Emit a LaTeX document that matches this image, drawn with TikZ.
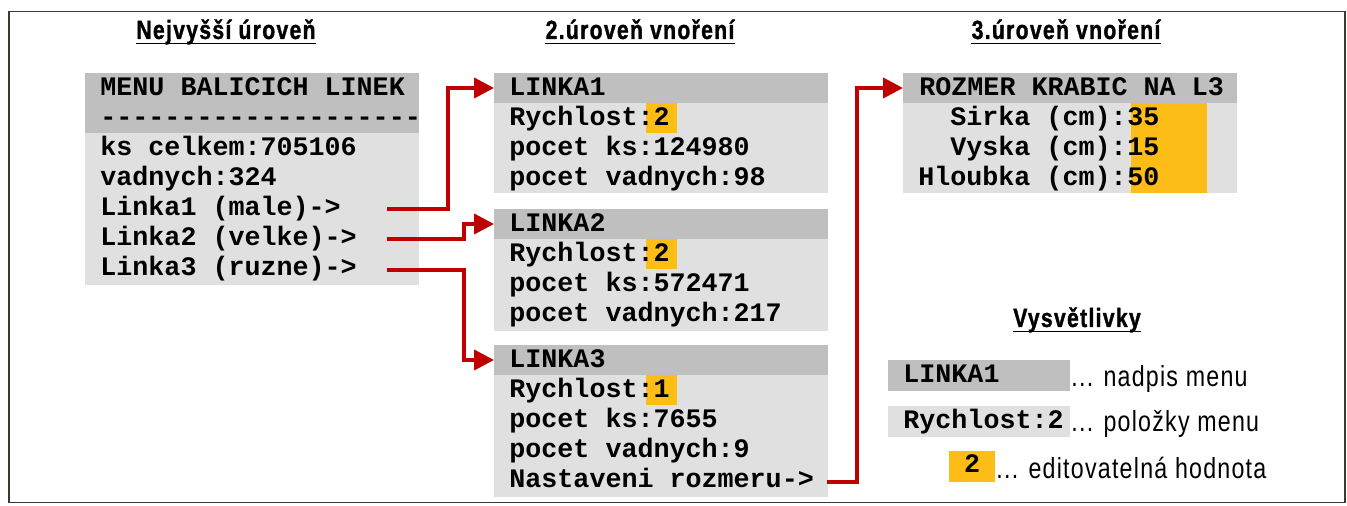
\documentclass[tikz,border=0pt]{standalone}
\usepackage{fontspec}
\setmonofont{Liberation Mono}
\newfontfamily\ttlfont[FakeStretch=0.8,LetterSpace=5,BoldFeatures={FakeBold=1.2}]{Liberation Sans}
\newfontfamily\condfont[FakeStretch=0.8,LetterSpace=4.3]{Liberation Sans}
\usetikzlibrary{arrows.meta}
\definecolor{hdr}{HTML}{BFBFBF}
\definecolor{itm}{HTML}{E0E0E0}
\definecolor{edit}{HTML}{FDBC16}
\definecolor{arr}{HTML}{C00000}
\definecolor{frm}{HTML}{3A3A32}
\begin{document}
\begin{tikzpicture}[x=0.5pt,y=-0.5pt,
  hdrbox/.style={fill=hdr,inner sep=0pt,outer sep=0pt,anchor=north west,minimum width=167pt,minimum height=15pt},
  itmbox/.style={fill=itm,inner sep=0pt,outer sep=0pt,anchor=north west,minimum width=167pt},
  editbox/.style={fill=edit,inner sep=0pt,outer sep=0pt,anchor=north west,minimum width=15.5pt,minimum height=15pt},
  mono/.style={font=\fontsize{13.35}{16}\selectfont\ttfamily\bfseries,anchor=base west,inner sep=0pt},
  ttl/.style={font=\ttlfont\bfseries\fontsize{13.2}{15}\selectfont,anchor=base,inner sep=0pt},
  desc/.style={font=\condfont\fontsize{14.5}{17}\selectfont,anchor=base west,inner sep=0pt},
  conn/.style={draw=arr,line width=2pt,-{Triangle[length=10pt,width=10pt]}},
  uline/.style={line width=0.75pt}]
\useasboundingbox (0,0) rectangle (1347,506);
\node[draw=frm,line width=0.75pt,inner sep=0pt,anchor=north west,minimum width=668pt,minimum height=245.5pt] (frame) at (8,11) {};

% titles
\node[ttl] (t1) at (226,39) {Nejvyšší úroveň};
\node[ttl] (t2) at (640,39) {2.úroveň vnoření};
\node[ttl] (t3) at (1066,39) {3.úroveň vnoření};
\node[ttl] (t4) at (1077,327) {Vysvětlivky};
\foreach \t in {t1,t2,t3,t4}{
  \draw[uline] ([yshift=-2.2pt]\t.base west) -- ([yshift=-2.2pt]\t.base east);
}

% top-level menu
\node[hdrbox,minimum height=30pt] (lh) at (85,73) {};
\node[itmbox,minimum height=76pt] (li) at (85,133) {};
\node[mono] (l1) at (100,96) {MENU BALICICH LINEK};
\node[mono] (l2) at (100,126) {--------------------};
\node[mono] (l3) at (100,156) {ks celkem:705106};
\node[mono] (l4) at (100,186) {vadnych:324};
\node[mono] (l5) at (100,216) {Linka1 (male)->};
\node[mono] (l6) at (100,246) {Linka2 (velke)->};
\node[mono] (l7) at (100,276) {Linka3 (ruzne)->};

% LINKA1
\node[hdrbox] (m1h) at (494,73) {};
\node[itmbox,minimum height=45pt] (m1i) at (494,103) {};
\node[editbox] (e1) at (646,103) {};
\node[mono] (a1) at (509,96) {LINKA1};
\node[mono] (a2) at (509,126) {Rychlost:2};
\node[mono] (a3) at (509,156) {pocet ks:124980};
\node[mono] (a4) at (509,186) {pocet vadnych:98};

% LINKA2
\node[hdrbox] (m2h) at (494,209) {};
\node[itmbox,minimum height=46pt] (m2i) at (494,239) {};
\node[editbox] (e2) at (646,239) {};
\node[mono] (b1) at (509,232) {LINKA2};
\node[mono] (b2) at (509,262) {Rychlost:2};
\node[mono] (b3) at (509,292) {pocet ks:572471};
\node[mono] (b4) at (509,322) {pocet vadnych:217};

% LINKA3
\node[hdrbox] (m3h) at (494,345) {};
\node[itmbox,minimum height=61pt] (m3i) at (494,375) {};
\node[editbox] (e3) at (646,375) {};
\node[mono] (c1) at (509,368) {LINKA3};
\node[mono] (c2) at (509,398) {Rychlost:1};
\node[mono] (c3) at (509,428) {pocet ks:7655};
\node[mono] (c4) at (509,458) {pocet vadnych:9};
\node[mono] (c5) at (509,488) {Nastaveni rozmeru->};

% level 3
\node[hdrbox] (rh) at (903,73) {};
\node[itmbox,minimum height=45pt] (ri) at (903,103) {};
\node[editbox,minimum width=38pt,minimum height=45pt] (re) at (1131,103) {};
\node[mono] (r1) at (919,96) {ROZMER KRABIC NA L3};
\node[mono,anchor=base east] (r2) at (1127,126) {Sirka (cm):};
\node[mono,anchor=base east] (r3) at (1127,156) {Vyska (cm):};
\node[mono,anchor=base east] (r4) at (1127,186) {Hloubka (cm):};
\node[mono] (v2) at (1127,126) {35};
\node[mono] (v3) at (1127,156) {15};
\node[mono] (v4) at (1127,186) {50};

% legend
\node[hdrbox,minimum width=91pt,minimum height=15.5pt] (gh) at (888,360) {};
\node[itmbox,minimum width=91pt,minimum height=15.5pt] (gi) at (888,406) {};
\node[editbox,minimum width=23pt,minimum height=15.5pt] (ge) at (949,451) {};
\node[mono] (g1) at (903,383) {LINKA1};
\node[mono] (g2) at (903,429) {Rychlost:2};
\node[mono,anchor=base] (g3) at (972,473) {2};
\node[desc] (d1) at (1071,387) {... nadpis menu};
\node[desc] (d2) at (1071,432) {... položky menu};
\node[desc] (d3) at (996,479) {... editovatelná hodnota};

% connectors
\coordinate (s1) at (387,209);
\coordinate (s2) at (387,239);
\coordinate (s3) at (387,270);
\coordinate (s4) at (827,482);
\coordinate (j1) at (448,88);
\coordinate (j2) at (464,224);
\coordinate (j3) at (464,360);
\coordinate (j4) at (857,88);
\draw[conn] (s1) -| (j1) -- (m1h.west);
\draw[conn] (s2) -| (j2) -- (m2h.west);
\draw[conn] (s3) -| (j3) -- (m3h.west);
\draw[conn] (s4) -| (j4) -- (rh.west);
\end{tikzpicture}
\end{document}
